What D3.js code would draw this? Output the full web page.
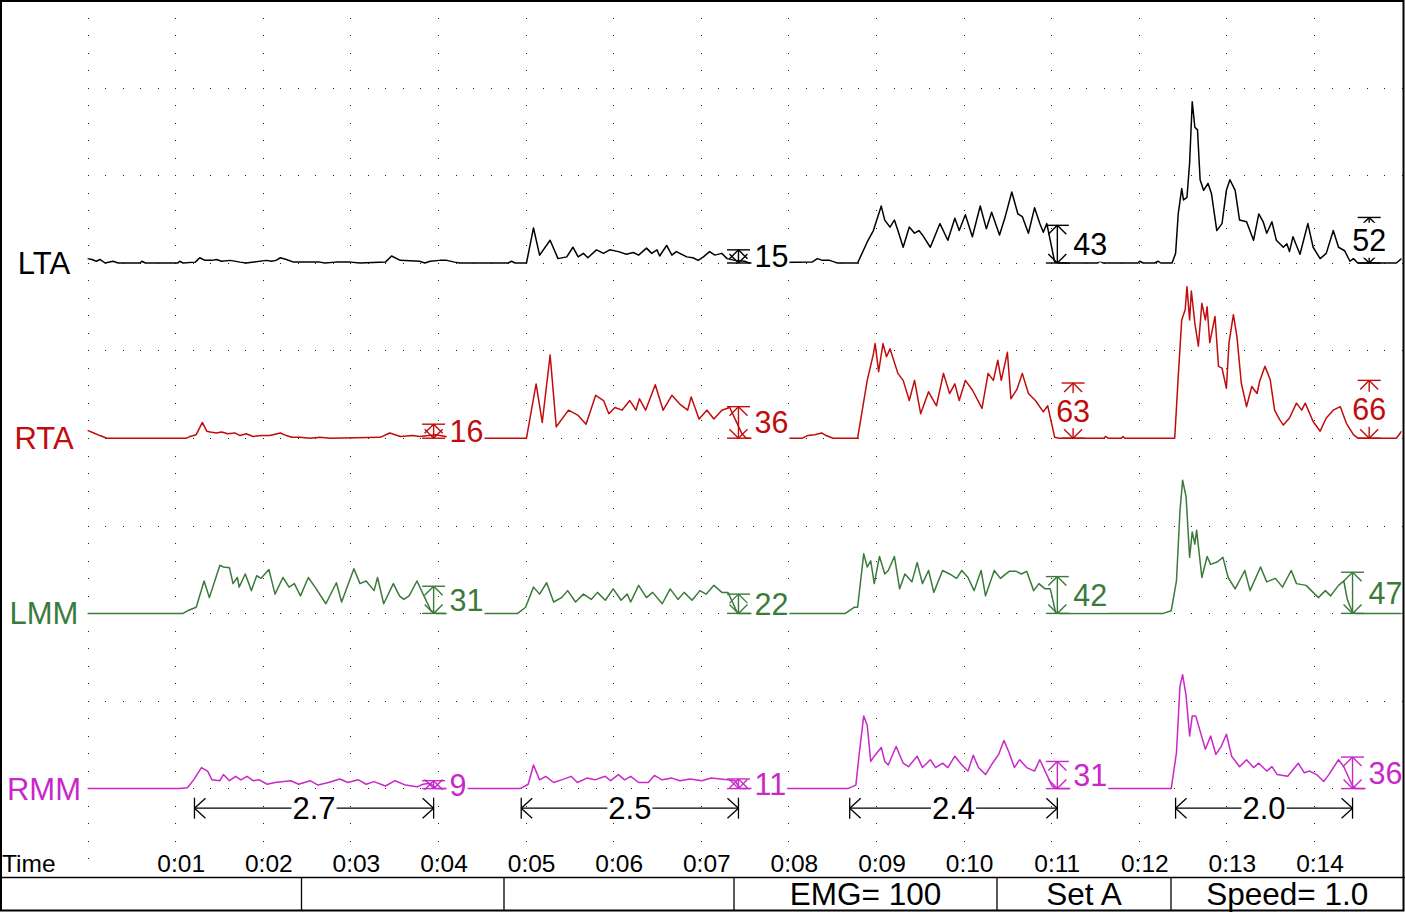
<!DOCTYPE html>
<html><head><meta charset="utf-8">
<script src="https://cdn.jsdelivr.net/npm/d3@7"></script>
<style>
body{margin:0;background:#fff;}
svg{display:block;}
text{font-family:"Liberation Sans",Arial,sans-serif;}
</style>
</head><body>
<svg id="chart" width="1405" height="912"></svg>
<script>
// ---------------- DATA ----------------
const channels = ["LTA", "RTA", "LMM", "RMM"];
const channelColors = ["#000000", "#c00c0c", "#3b7a3b", "#c828c8"];

// [time (s), amplitude (uV)]
const ltaSignal = [
[0,5],[0.05,4],[0.10,2],[0.14,4],[0.20,0],[0.29,2],[0.35,0],[0.60,0],[0.62,2],[0.66,0],[1.03,0],[1.05,2],[1.09,0],[1.23,1],[1.28,6],[1.34,3],[1.42,3],[1.47,4],[1.53,2],[1.63,3],[1.74,1],[1.81,0],[2.04,3],[2.10,2],[2.15,3],[2.20,6],[2.27,4],[2.35,1],[2.65,1],[2.71,0],[2.83,1],[3.00,1],[3.11,0],[3.40,1],[3.47,8],[3.57,3],[3.79,2],[3.85,0],[3.91,2],[4.02,3],[4.10,3],[4.19,1],[4.25,0],[4.80,0],[4.84,2],[4.88,0],
[5.01,0],[5.09,40],[5.16,9],[5.28,26],[5.37,5],[5.47,7],[5.54,18],[5.60,7],[5.66,11],[5.71,6],[5.81,15],[5.89,11],[5.96,15],[6.06,13],[6.15,10],[6.23,12],[6.29,9],[6.38,17],[6.44,11],[6.50,15],[6.53,8],[6.61,20],[6.67,9],[6.72,13],[6.84,7],[6.91,6],[6.97,3],[7.03,7],[7.10,13],[7.16,9],[7.24,11],[7.30,5],[7.39,3],[7.50,2],[7.55,0],[8.27,1],[8.33,5],[8.39,3],[8.47,3],[8.53,1],[8.56,0],
[8.79,0],[8.90,24],[8.97,37],[9.06,65],[9.10,49],[9.16,41],[9.21,49],[9.25,37],[9.31,18],[9.38,41],[9.44,34],[9.49,37],[9.53,32],[9.62,18],[9.73,45],[9.82,26],[9.90,51],[9.95,37],[10.02,55],[10.10,30],[10.19,65],[10.26,39],[10.32,58],[10.41,32],[10.47,51],[10.55,81],[10.62,56],[10.67,53],[10.74,34],[10.81,63],[10.87,45],[10.91,35],[10.95,45],[11.04,1],[11.10,0],[11.53,0],[11.56,2],[11.59,0],[11.99,0],[12.01,2],[12.05,0],[12.18,0],[12.22,2],[12.25,0],
[12.38,0],[12.42,11],[12.45,56],[12.49,85],[12.51,72],[12.55,75],[12.58,114],[12.61,184],[12.64,155],[12.67,152],[12.70,95],[12.74,83],[12.79,91],[12.83,79],[12.89,37],[12.95,45],[13.00,83],[13.04,95],[13.10,83],[13.15,49],[13.23,47],[13.31,26],[13.37,56],[13.42,47],[13.46,34],[13.52,47],[13.57,26],[13.65,18],[13.69,22],[13.72,13],[13.76,30],[13.84,10],[13.93,45],[13.99,18],[14.07,5],[14.14,11],[14.22,37],[14.28,18],[14.35,14],[14.41,2],[14.45,5],[14.50,0],[14.94,0],[15.00,5],[15.03,4]
];
const rtaSignal = [
[0,9],[0.07,6],[0.14,3],[0.22,0],[1.13,0],[1.17,2],[1.24,4],[1.31,18],[1.36,8],[1.40,7],[1.47,6],[1.53,7],[1.60,5],[1.68,6],[1.74,3],[1.81,5],[1.89,2],[1.99,3],[2.08,3],[2.20,6],[2.27,3],[2.33,1],[2.42,1],[2.54,0],[2.65,1],[2.77,0],[3.34,1],[3.45,6],[3.57,2],[3.71,3],[3.79,2],[3.89,3],[3.97,4],[4.09,2],[4.14,0],
[5.01,0],[5.12,62],[5.19,18],[5.28,95],[5.35,13],[5.49,32],[5.60,26],[5.69,16],[5.80,49],[5.89,43],[5.95,28],[6.02,35],[6.10,32],[6.19,43],[6.26,32],[6.30,45],[6.37,32],[6.48,61],[6.57,32],[6.67,49],[6.76,39],[6.85,32],[6.89,47],[6.98,22],[7.07,32],[7.15,22],[7.24,32],[7.33,35],[7.40,20],[7.47,5],[7.52,0],[8.16,0],[8.22,3],[8.30,4],[8.38,6],[8.43,3],[8.51,0],
[8.79,0],[8.90,66],[8.97,96],[8.99,108],[9.03,76],[9.08,108],[9.12,93],[9.16,102],[9.25,74],[9.31,66],[9.38,43],[9.44,66],[9.51,28],[9.60,53],[9.69,37],[9.77,74],[9.84,51],[9.90,62],[9.95,43],[10.02,66],[10.10,55],[10.21,34],[10.28,74],[10.34,66],[10.39,89],[10.43,66],[10.50,98],[10.54,45],[10.61,56],[10.67,74],[10.74,51],[10.82,43],[10.91,30],[10.96,37],[11.04,1],[11.09,0],[11.60,0],[11.62,2],[11.65,0],[11.80,0],[11.82,2],[11.84,0],
[12.41,0],[12.45,70],[12.49,135],[12.53,147],[12.55,173],[12.58,135],[12.60,168],[12.64,131],[12.68,105],[12.72,154],[12.76,135],[12.78,150],[12.81,109],[12.87,139],[12.91,82],[12.95,80],[13.00,57],[13.03,109],[13.08,141],[13.12,116],[13.17,63],[13.23,36],[13.29,59],[13.35,51],[13.38,65],[13.44,82],[13.50,67],[13.55,32],[13.61,21],[13.65,15],[13.72,23],[13.80,40],[13.86,32],[13.90,40],[13.99,19],[14.07,8],[14.14,23],[14.22,32],[14.30,36],[14.37,17],[14.45,4],[14.50,0],[14.94,0],[15.00,8],[15.03,7]
];
const lmmSignal = [
[0,0],[1.09,0],[1.14,3],[1.24,7],[1.33,37],[1.39,18],[1.51,55],[1.55,53],[1.62,52],[1.66,34],[1.71,41],[1.73,30],[1.80,45],[1.87,26],[1.93,43],[1.98,40],[2.07,50],[2.14,22],[2.23,41],[2.30,30],[2.36,34],[2.43,20],[2.52,41],[2.61,28],[2.72,11],[2.84,35],[2.90,13],[3.04,51],[3.11,34],[3.18,37],[3.27,26],[3.31,41],[3.38,11],[3.49,34],[3.56,20],[3.61,16],[3.67,20],[3.76,37],[3.83,22],[3.92,3],[3.98,0],
[4.91,0],[5.00,7],[5.09,30],[5.16,22],[5.24,35],[5.32,13],[5.41,18],[5.48,26],[5.57,13],[5.66,22],[5.75,16],[5.82,24],[5.91,15],[6.00,28],[6.09,15],[6.16,22],[6.20,13],[6.29,32],[6.38,18],[6.45,24],[6.56,11],[6.65,28],[6.74,16],[6.81,24],[6.90,15],[6.99,26],[7.06,22],[7.15,32],[7.24,24],[7.31,24],[7.37,11],[7.42,0],
[8.65,0],[8.68,2],[8.75,7],[8.79,7],[8.86,68],[8.90,53],[8.94,60],[8.98,34],[9.04,65],[9.10,45],[9.14,49],[9.21,65],[9.27,28],[9.33,45],[9.41,36],[9.47,58],[9.53,34],[9.60,49],[9.66,24],[9.76,49],[9.84,45],[9.92,40],[9.98,49],[10.05,41],[10.12,26],[10.20,49],[10.25,20],[10.35,49],[10.42,40],[10.52,48],[10.60,48],[10.66,45],[10.72,48],[10.80,26],[10.86,34],[10.93,28],[10.99,28],[11.05,1],[11.10,0],
[12.28,0],[12.37,3],[12.43,37],[12.47,117],[12.50,152],[12.54,133],[12.58,64],[12.61,93],[12.64,79],[12.66,95],[12.72,41],[12.78,65],[12.82,56],[12.90,59],[12.96,64],[13.02,41],[13.10,28],[13.21,49],[13.27,26],[13.39,53],[13.46,36],[13.56,40],[13.64,30],[13.74,49],[13.80,34],[13.91,32],[14.05,18],[14.13,26],[14.19,20],[14.28,32],[14.34,37],[14.38,16],[14.44,1],[14.48,0],[15.03,0]
];
const rmmSignal = [
[0,0],[1.05,0],[1.14,1],[1.21,10],[1.30,24],[1.37,20],[1.42,10],[1.51,9],[1.55,16],[1.62,9],[1.69,14],[1.75,10],[1.82,14],[1.89,9],[1.96,10],[2.05,5],[2.14,7],[2.32,9],[2.41,5],[2.54,9],[2.63,4],[2.75,7],[2.88,11],[2.97,7],[3.09,10],[3.18,5],[3.27,8],[3.40,3],[3.51,9],[3.63,4],[3.76,2],[3.83,5],[3.91,6],[3.98,0],
[4.94,0],[5.03,5],[5.09,27],[5.16,10],[5.23,14],[5.32,7],[5.41,10],[5.52,14],[5.59,7],[5.70,12],[5.79,10],[5.91,14],[5.97,9],[6.06,16],[6.13,10],[6.20,14],[6.29,7],[6.40,7],[6.47,15],[6.56,10],[6.67,12],[6.76,9],[6.88,11],[7.01,9],[7.12,12],[7.22,11],[7.31,10],[7.39,9],[7.45,0],
[8.68,0],[8.77,4],[8.81,41],[8.86,83],[8.90,72],[8.94,31],[8.98,37],[9.06,47],[9.10,31],[9.14,27],[9.23,48],[9.31,29],[9.37,25],[9.47,37],[9.53,24],[9.62,33],[9.68,24],[9.76,29],[9.82,24],[9.90,37],[9.98,27],[10.05,20],[10.11,38],[10.17,24],[10.25,16],[10.33,29],[10.40,39],[10.46,55],[10.52,41],[10.58,24],[10.64,33],[10.72,24],[10.81,20],[10.87,33],[10.93,20],[11.01,3],[11.05,0],
[12.37,0],[12.43,41],[12.47,117],[12.50,130],[12.54,106],[12.58,60],[12.61,83],[12.65,83],[12.76,45],[12.82,60],[12.88,39],[12.94,48],[13.00,62],[13.06,37],[13.15,25],[13.23,33],[13.31,24],[13.37,29],[13.46,20],[13.52,25],[13.58,16],[13.70,14],[13.82,29],[13.89,18],[13.95,20],[14.03,16],[14.11,8],[14.17,16],[14.28,33],[14.34,25],[14.44,3],[14.48,0],[15.03,0]
];
const signals = [ltaSignal, rtaSignal, lmmSignal, rmmSignal];

// amplitude markers: [time (s), value (uV)]
const ltaMarks = [[7.43,15],[11.07,43],[14.63,52]];
const rtaMarks = [[3.95,16],[7.43,36],[11.25,63],[14.63,66]];
const lmmMarks = [[3.95,31],[7.43,22],[11.07,42],[14.44,47]];
const rmmMarks = [[3.95,9],[7.43,11],[11.07,31],[14.44,36]];
const marks = [ltaMarks, rtaMarks, lmmMarks, rmmMarks];

// burst duration intervals [start, end] (s) and labels
const intervals = [[1.22,3.95],[4.95,7.43],[8.70,11.07],[12.42,14.44]];
const intervalLabels = ["2.7","2.5","2.4","2.0"];

const timeTicks = [1,2,3,4,5,6,7,8,9,10,11,12,13,14];
const timeTickLabels = ["0:01","0:02","0:03","0:04","0:05","0:06","0:07","0:08","0:09","0:10","0:11","0:12","0:13","0:14"];
const timeTitle = "Time";
const statusTexts = ["EMG= 100","Set A","Speed= 1.0"];

// ---------------- DRAW ----------------
const W = 1405, H = 912;
const G = 87.6;                 // grid cell (1 s, 100 uV)
const svg = d3.select("#chart");
const x = d3.scaleLinear().domain([0, 15]).range([G, G * 16]);
const baselines = [3, 5, 7, 9].map(k => k * G + 0.2);
const yScales = baselines.map(b => d3.scaleLinear().domain([0, 100]).range([b, b - G]));

svg.append("rect").attr("width", W).attr("height", H).attr("fill", "#fff");

// dotted grid
const grid = svg.append("g").attr("fill", "#222");
const step = G / 5;
timeTicks.concat([0, 15]).forEach(t => {
  const xx = Math.round(x(t));
  if (xx > 1400) return;
  for (let yy = step; yy < 862; yy += step) {
    grid.append("rect").attr("x", xx).attr("y", Math.round(yy)).attr("width", 1).attr("height", 1);
  }
});
for (let m = 1; m <= 9; m++) {
  const yy = Math.round(m * G);
  for (let xx = G; xx < 1402; xx += step) {
    grid.append("rect").attr("x", Math.round(xx)).attr("y", yy).attr("width", 1).attr("height", 1);
  }
}

// traces
const clip = svg.append("clipPath").attr("id", "plotclip").append("rect")
  .attr("x", G - 1).attr("y", 2).attr("width", 1402.5 - G).attr("height", 870);
signals.forEach((data, i) => {
  const line = d3.line().x(d => x(d[0])).y(d => yScales[i](d[1]));
  svg.append("path").datum(data).attr("d", line)
    .attr("fill", "none").attr("stroke", channelColors[i]).attr("stroke-width", 1.5)
    .attr("stroke-linejoin", "round").attr("clip-path", "url(#plotclip)");
});

// channel labels
channels.forEach((name, i) => {
  svg.append("text").attr("x", 44).attr("y", baselines[i] + 11)
    .attr("text-anchor", "middle").attr("font-size", 31)
    .attr("fill", channelColors[i]).text(name);
});

// amplitude markers
const mk = svg.append("g");
marks.forEach((arr, i) => {
  const col = channelColors[i];
  const y = yScales[i];
  arr.forEach(([t, v]) => {
    const cx = x(t), yb = y(0), yt = y(v);
    const hw = 11.5, ax = 9, ay = 9;
    const segs = [
      [cx - hw, yt, cx + hw, yt], [cx - hw, yb, cx + hw, yb], [cx, yt, cx, yb],
      [cx, yt, cx - ax, yt + ay], [cx, yt, cx + ax, yt + ay],
      [cx, yb, cx - ax, yb - ay], [cx, yb, cx + ax, yb - ay]
    ];
    segs.forEach(s => mk.append("line").attr("x1", s[0]).attr("y1", s[1]).attr("x2", s[2]).attr("y2", s[3])
      .attr("stroke", col).attr("stroke-width", 1.4));
    const mid = (yt + yb) / 2;
    const inside = v >= 50;
    const bg = mk.append("rect").attr("fill", "#fff");
    const txt = mk.append("text").attr("font-size", 30.5).attr("fill", col)
      .attr("y", mid + 11).text(String(v));
    if (inside) txt.attr("x", cx).attr("text-anchor", "middle");
    else txt.attr("x", cx + 16).attr("text-anchor", "start");
    const tw = txt.node().getComputedTextLength();
    const x0 = inside ? cx - tw / 2 - 2 : cx + 13;
    const x1 = inside ? cx + tw / 2 + 2 : cx + 16 + tw + 1;
    bg.attr("x", x0).attr("y", mid - 17.5).attr("width", x1 - x0).attr("height", 35);
  });
});

// duration intervals
const dy0 = baselines[3] + 19.6;
const dim = svg.append("g");
intervals.forEach(([a, b], k) => {
  const xa = x(a), xb = x(b);
  const segs = [
    [xa, dy0 - 10.5, xa, dy0 + 10.5], [xb, dy0 - 10.5, xb, dy0 + 10.5], [xa, dy0, xb, dy0],
    [xa, dy0, xa + 11, dy0 - 10], [xa, dy0, xa + 11, dy0 + 10],
    [xb, dy0, xb - 11, dy0 - 10], [xb, dy0, xb - 11, dy0 + 10]
  ];
  segs.forEach(s => dim.append("line").attr("x1", s[0]).attr("y1", s[1]).attr("x2", s[2]).attr("y2", s[3])
    .attr("stroke", "#000").attr("stroke-width", 1.3));
  const cx = (xa + xb) / 2;
  const bg = dim.append("rect").attr("fill", "#fff");
  const txt = dim.append("text").attr("x", cx).attr("y", dy0 + 11).attr("text-anchor", "middle")
    .attr("font-size", 31).attr("fill", "#000").text(intervalLabels[k]);
  const tw = txt.node().getComputedTextLength();
  bg.attr("x", cx - tw / 2 - 1).attr("y", dy0 - 12).attr("width", tw + 2).attr("height", 24);
});

// time axis labels
timeTicks.forEach((t, k) => {
  svg.append("text").attr("x", x(t) + 6).attr("y", 872).attr("text-anchor", "middle")
    .attr("font-size", 24.5).attr("fill", "#000").text(timeTickLabels[k]);
});
svg.append("text").attr("x", 2).attr("y", 872).attr("font-size", 24.5).attr("fill", "#000").text(timeTitle);

// status bar
const sTop = 877.5, sBot = 910;
svg.append("line").attr("x1", 0).attr("x2", W).attr("y1", sTop).attr("y2", sTop).attr("stroke", "#000").attr("stroke-width", 1.5);
const dividers = [301.5, 504, 734, 997, 1171, 1403.5];
dividers.slice(0, 5).forEach(d => svg.append("line").attr("x1", d).attr("x2", d).attr("y1", sTop).attr("y2", sBot)
  .attr("stroke", "#000").attr("stroke-width", 1.3));
statusTexts.forEach((s, k) => {
  const cx = (dividers[k + 2] + dividers[k + 3]) / 2;
  svg.append("text").attr("x", cx).attr("y", 905).attr("text-anchor", "middle")
    .attr("font-size", 31.5).attr("fill", "#000").text(s);
});

// outer frame
svg.append("rect").attr("x", 1).attr("y", 1).attr("width", 1402.5).attr("height", 909.5)
  .attr("fill", "none").attr("stroke", "#000").attr("stroke-width", 2);
</script>
</body></html>
